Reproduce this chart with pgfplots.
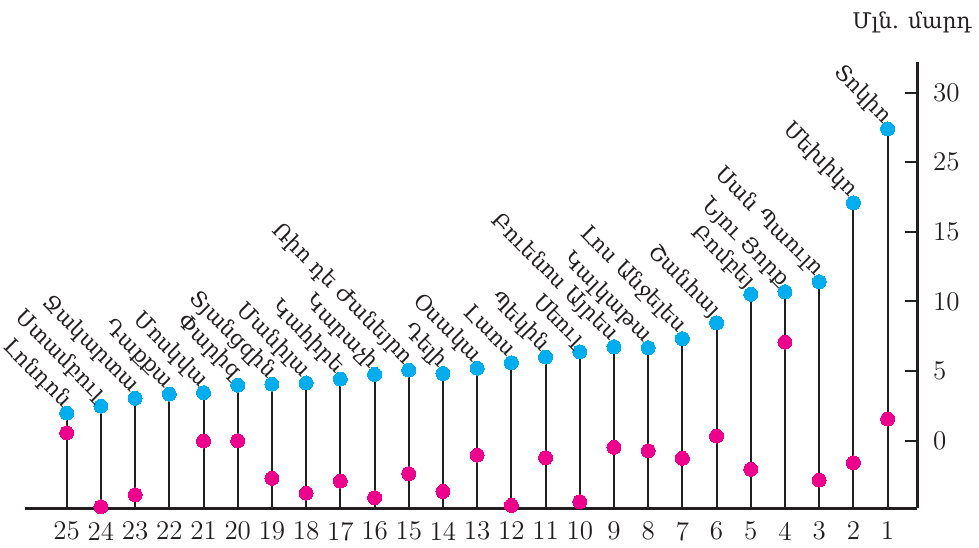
\documentclass[border=0pt]{standalone}
\usepackage{pgfplots}
\pgfplotsset{compat=1.18}
\usepackage{pgfplotstable}
\usepackage{fontspec}
\newfontfamily\armfont{DejaVu Serif}
\definecolor{cyanc}{HTML}{00AEEF}
\definecolor{magc}{HTML}{EC008C}
\definecolor{stemc}{HTML}{231F20}

\pgfplotstableread[col sep=comma]{
i,rank,pop,growth,name
1,25,1.99,0.57,Լոնդոն
2,24,2.49,-4.74,Ստամբուլ
3,23,3.05,-3.88,Ջակարտա
4,22,3.35,-4.91,Դաքքա
5,21,3.45,-0.02,Մոսկվա
6,20,3.99,0.00,Փարիզ
7,19,4.07,-2.70,Տյանցզին
8,18,4.15,-3.76,Մանիլա
9,17,4.43,-2.90,Կահիրե
10,16,4.77,-4.09,Կարաչի
11,15,5.08,-2.37,Ռիո դե Ժանեյրո
12,14,4.83,-3.64,Դելի
13,13,5.21,-1.03,Օսակա
14,12,5.60,-4.64,Լաոս
15,11,6.01,-1.22,Պեկին
16,10,6.39,-4.38,Սեուլ
17,9,6.75,-0.47,Բուենոս Այրես
18,8,6.68,-0.72,Կալկաթա
19,7,7.33,-1.26,Լոս Անջելես
20,6,8.46,0.34,Շանհայ
21,5,10.52,-2.05,Բոմբեյ
22,4,10.70,7.09,Նյու Յորք
23,3,11.42,-2.82,Սան Պաուլո
24,2,17.08,-1.58,Մեխիկո
25,1,22.39,1.56,Տոկիո
}\datatable

\begin{document}
\begin{tikzpicture}
\begin{axis}[
  name=ax,
  scale only axis,
  width=446pt, height=223pt,
  xmin=-0.22, xmax=25.86,
  ymin=-4.83, ymax=27.2,
  axis x line=bottom, axis y line=right,
  axis line style={-, line width=1.5pt, color=stemc},
  xtick={1,...,25},
  xticklabels={25,24,23,22,21,20,19,18,17,16,15,14,13,12,11,10,9,8,7,6,5,4,3,2,1},
  ytick={0,5,10,15,20,25},
  yticklabels={0,5,10,15,25,30},
  x tick style={draw=none},
  y tick style={line width=1pt, color=stemc},
  tick align=inside,
  major tick length=6pt,
  tick label style={font=\fontsize{13.5}{16}\selectfont, text=stemc},
  xticklabel style={yshift=-3.4pt},
  yticklabel style={xshift=4.5pt},
  clip=true,
]
% stems
\addplot[only marks, mark=none, forget plot,
  error bars/.cd, y dir=minus, y fixed=40,
  error bar style={line width=1pt, color=stemc}, error mark=none]
  table[x=i, y=pop] {\datatable};
% magenta dots
\addplot[only marks, color=magc, mark=*, mark size=3.5pt, mark options={fill=magc, draw=magc, line width=0pt}]
  table[x=i, y=growth] {\datatable};
% cyan dots with labels
\addplot[only marks, color=cyanc, mark=*, mark size=3.5pt, mark options={fill=cyanc, draw=cyanc, line width=0pt},
  point meta=explicit symbolic,
  nodes near coords={\pgfplotspointmeta},
  every node near coord/.append style={xshift=-2pt, yshift=2.5pt, rotate=-45, anchor=base east,
     font=\armfont\fontsize{10.8}{13}\selectfont, text=stemc, inner sep=0pt}]
  table[x=i, y=pop, meta=name] {\datatable};
\end{axis}
\node[font=\armfont\fontsize{10.8}{13}\selectfont, text=stemc] at ([xshift=-2.5pt,yshift=20pt]ax.north east) {Մլն. մարդ};
\pgfresetboundingbox
\path (ax.south west) ++(-12.5pt,-19.5pt) coordinate (bl);
\path (ax.south west) ++(477pt,254pt) coordinate (tr);
\path (bl) rectangle (tr);
\end{tikzpicture}
\end{document}
